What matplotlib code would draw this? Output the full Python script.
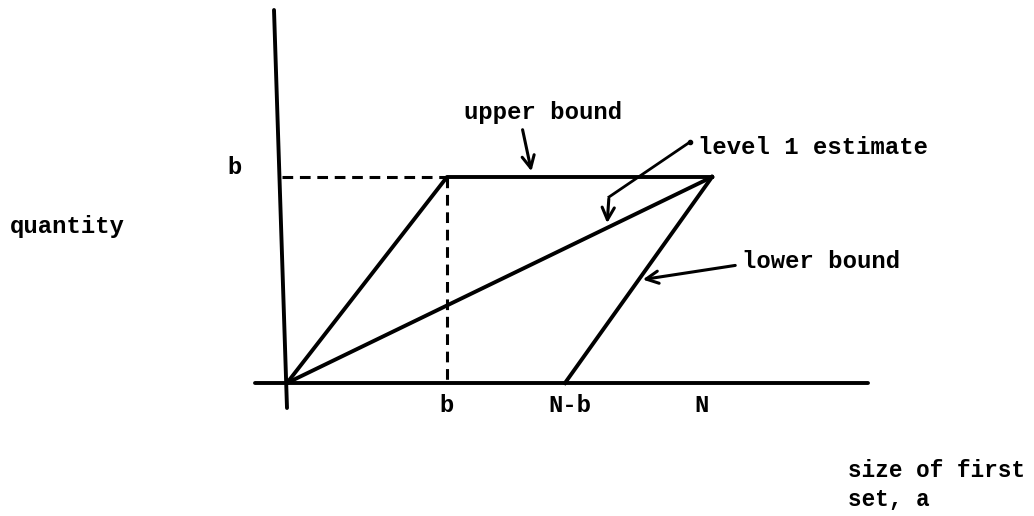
import matplotlib.pyplot as plt

# chart units: origin at the corner of the axes, roughly screen pixels
b_x = 160
n_minus_b_x = 278
n_x = 425
b_y = 206

upper_x = [0, b_x, n_x]
upper_y = [0, b_y, b_y]
lower_x = [n_minus_b_x, n_x]
lower_y = [0, b_y]
level_x = [0, n_x]
level_y = [0, b_y]

tick_labels = ["b", "N-b", "N"]
tick_pos = [b_x, 283, 415]

plt.rcParams['font.family'] = ['Liberation Mono', 'DejaVu Sans Mono']
plt.rcParams['font.weight'] = 'bold'
fs = 17.2
lw = 2.8

fig = plt.figure(figsize=(10.34, 5.16), dpi=100)
ax = fig.add_axes([0, 0, 1, 1])
ax.set_xlim(-287, 747)
ax.set_ylim(-133, 383)
ax.axis("off")

# axes drawn by hand (y axis leans a little, as in the scan)
ax.plot([-13, 0], [373, -25], color="black", lw=lw, solid_capstyle="round")
ax.plot([-32, 581], [0, 0], color="black", lw=lw, solid_capstyle="round")

# dashed guides to b
ax.plot([-5, b_x], [b_y, b_y], color="black", lw=2.2, dashes=(3.5, 2.2))
ax.plot([b_x, b_x], [b_y, 0], color="black", lw=2.2, dashes=(3.5, 2.2))

ax.plot(upper_x, upper_y, color="black", lw=lw, solid_joinstyle="round")
ax.plot(lower_x, lower_y, color="black", lw=lw)
ax.plot(level_x, level_y, color="black", lw=lw)

arrow = dict(arrowstyle="->", color="black", lw=2.2, mutation_scale=22)

ax.text(256, 270, "upper bound", fontsize=fs, ha="center", va="center")
ax.annotate("", xy=(245, b_y + 3), xytext=(235, 256), arrowprops=arrow)

ax.text(411, 236, "level 1 estimate", fontsize=fs, ha="left", va="center")
ax.plot([403, 322], [241, 186], color="black", lw=2.0)
ax.plot([403], [241], "o", color="black", ms=3)
ax.annotate("", xy=(320, b_y * 320 / n_x + 2), xytext=(322, 187), arrowprops=arrow)

ax.text(455, 121, "lower bound", fontsize=fs, ha="left", va="center")
ax.annotate("", xy=(353, 103), xytext=(451, 118), arrowprops=arrow)

ax.text(-277, 156, "quantity", fontsize=fs, ha="left", va="center")
ax.text(-52, 215, "b", fontsize=fs, ha="center", va="center")

for lab, xp in zip(tick_labels, tick_pos):
    ax.text(xp, -22, lab, fontsize=fs, ha="center", va="center")

ax.text(561, -102, "size of first\nset, a", fontsize=fs - 0.9, ha="left", va="center",
        linespacing=1.35)

fig.savefig("out.png", dpi=100, facecolor="white")
